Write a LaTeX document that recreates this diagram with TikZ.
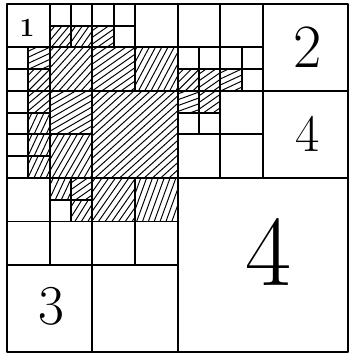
\documentclass[tikz,border=0pt]{standalone}
\usepackage{tikz}

\tikzset{
  cell/.style={line width=1.1pt, line join=round},
  hatch/.style={line width=0.55pt},
  digit/.style={inner sep=0pt}
}

% hatching of one square: x, y, size, angle
\newcommand{\hatchcell}[4]{%
  \begin{scope}
    \clip (#1,#2) rectangle ++(#3,#3);
    \begin{scope}[shift={(#1+#3/2,#2+#3/2)}, x=1cm, y=1cm, rotate=#4]
      \foreach \k in {-20,...,20}
        \draw[hatch] (-2.2,\k*0.11) -- (2.2,\k*0.11);
    \end{scope}
  \end{scope}
}

\begin{document}
\begin{tikzpicture}[x=0.42625cm, y=-0.435cm]
    \useasboundingbox (-0.33,-0.18) rectangle (16.09,16.09);

    % Hatched squares
    \foreach \x/\y/\s/\a in {2/1/1/50, 3/1/1/55, 4/1/1/35, 1/2/1/25, 1/3/1/45,
        2/2/2/48, 4/2/2/35, 6/2/2/62, 1/4/1/40, 2/4/2/30, 1/5/1/65, 1/6/1/65,
        1/7/1/65, 2/6/2/60, 4/4/4/42, 2/8/1/65, 3/8/1/35, 3/9/1/58, 4/8/2/55,
        6/8/2/70, 8/3/1/45, 9/3/1/35, 10/3/1/25, 8/4/1/20, 9/4/1/35}
        \hatchcell{\x}{\y}{\s}{\a};

    % Upper left quarter
    \foreach \x/\y/\s in {0/0/2, 2/0/1, 3/0/1, 2/1/1, 3/1/1, 4/0/1, 5/0/1, 4/1/1,
        5/1/1, 6/0/2, 0/2/1, 1/2/1, 0/3/1, 1/3/1, 2/2/2, 4/2/2, 6/2/2, 0/4/1,
        1/4/1, 0/5/1, 1/5/1, 2/4/2, 0/6/1, 1/6/1, 0/7/1, 1/7/1, 2/6/2, 4/4/4}
        \draw[cell] (\x,\y) rectangle ++(\s,\s);

    % Upper right quarter
    \foreach \x/\y/\s in {8/0/2, 10/0/2, 8/2/1, 9/2/1, 8/3/1, 9/3/1, 10/2/1,
        11/2/1, 10/3/1, 11/3/1, 12/0/4, 8/4/1, 9/4/1, 8/5/1, 9/5/1, 10/4/2,
        8/6/2, 10/6/2, 12/4/4}
        \draw[cell] (\x,\y) rectangle ++(\s,\s);

    % Lower half
    \foreach \x/\y/\s in {0/8/2, 2/8/1, 3/8/1, 2/9/1, 3/9/1, 0/10/2, 2/10/2,
        4/8/2, 6/8/2, 4/10/2, 6/10/2, 0/12/4, 4/12/4, 8/8/8}
        \draw[cell] (\x,\y) rectangle ++(\s,\s);

    % Labels
    \node[digit, font=\fontsize{15}{15}\selectfont\bfseries] (one) at (0.94,1.1) {1};
    \node[digit, font=\fontsize{35}{35}\selectfont] (two) at (14.08,1.98) {2};
    \node[digit, font=\fontsize{30}{30}\selectfont] (four) at (14.1,5.98) {4};
    \node[digit, font=\fontsize{32}{32}\selectfont] (three) at (2.1,13.9) {3};
    \node[digit, font=\fontsize{57}{57}\selectfont] (bigfour) at (12.25,11.4) {4};
\end{tikzpicture}
\end{document}
